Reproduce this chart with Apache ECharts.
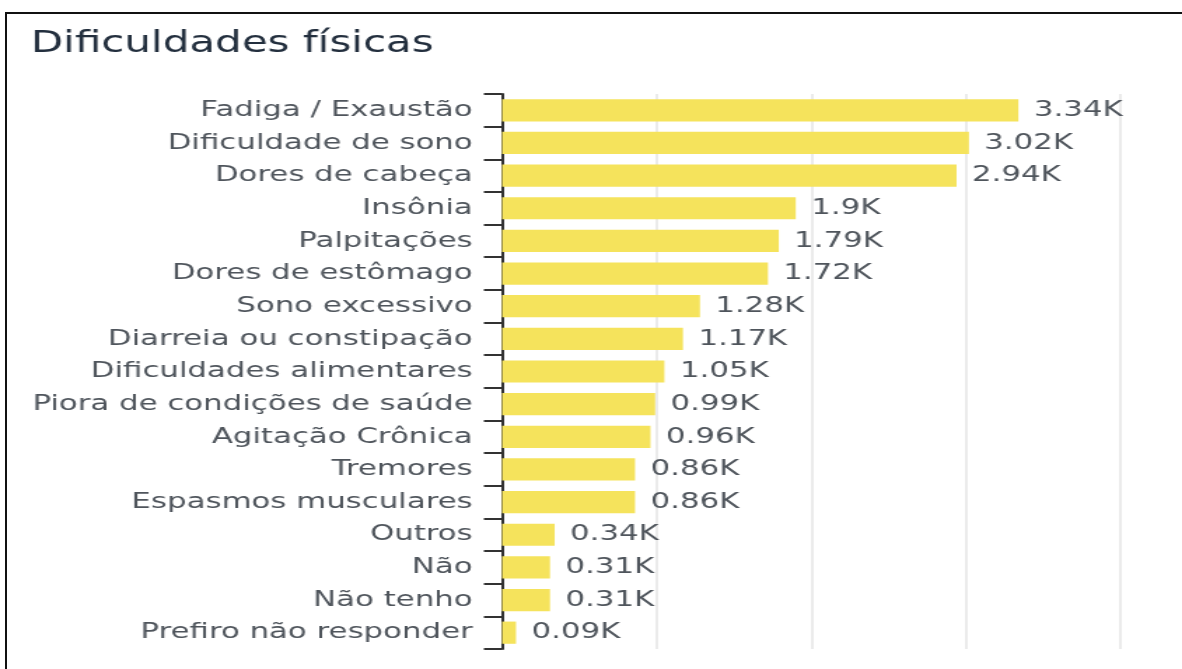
<!DOCTYPE html>
<html>
<head>
<meta charset="utf-8">
<script src="https://cdn.jsdelivr.net/npm/echarts@6/dist/echarts.min.js"></script>
<style>
    html, body { margin: 0; padding: 0; background: #fff; overflow: hidden; }
    #frame {
        position: absolute; left: 5px; top: 12px; width: 1200px; height: 700px;
        border-top: 2px solid #111; border-left: 2px solid #111;
    }
    /* the reference picture is stretched sideways, so the chart is too */
    #chart {
        position: absolute; left: 0; top: 0; width: 844px; height: 669px;
        transform: scaleX(1.4005); transform-origin: 0 0;
    }
</style>
</head>
<body>
<div id="frame"></div>
<div id="chart"></div>
<script>
const categories = [
    'Fadiga / Exaustão', 'Dificuldade de sono', 'Dores de cabeça', 'Insônia',
    'Palpitações', 'Dores de estômago', 'Sono excessivo', 'Diarreia ou constipação',
    'Dificuldades alimentares', 'Piora de condições de saúde', 'Agitação Crônica',
    'Tremores', 'Espasmos musculares', 'Outros', 'Não', 'Não tenho', 'Prefiro não responder'
];
const counts = [3340, 3020, 2940, 1900, 1790, 1720, 1280, 1170, 1050, 990, 960, 860, 860, 340, 310, 310, 90];
const axisMax = 4000;
const axisStep = 1000;

document.addEventListener('DOMContentLoaded', () => {

    const ch = echarts.init(document.getElementById('chart'));

    function formatK(v) {
        return (Math.round(v / 10) / 100) + 'K';
    }

    const option = {
        animation: false,
        textStyle: { fontFamily: 'DejaVu Sans' },
        title: {
            text: 'Dificuldades físicas',
            left: 17, top: 24,
            textStyle: { fontFamily: 'DejaVu Sans', fontSize: 30, fontWeight: 'normal', color: '#232f3e' }
        },
        grid: { left: 358.5, right: 44, top: 94, bottom: 20 },
        xAxis: {
            type: 'value', min: 0, max: axisMax, interval: axisStep,
            axisLabel: { show: false },
            axisLine: { show: false },
            axisTick: { show: false },
            splitLine: { show: true, lineStyle: { color: '#e4e4e4', width: 1.5 } }
        },
        yAxis: {
            type: 'category', data: categories, inverse: true,
            axisLine: { show: true, lineStyle: { color: '#333', width: 2 } },
            axisTick: { show: true, length: 13, lineStyle: { color: '#333', width: 2 } },
            axisLabel: { margin: 21, fontSize: 22, color: '#4f555c', fontFamily: 'DejaVu Sans' }
        },
        series: [{
            type: 'bar',
            data: counts,
            barCategoryGap: '32%',
            itemStyle: { color: '#f5e35c' },
            label: {
                show: true, position: 'right', distance: 11,
                fontSize: 22, color: '#4f555c', fontFamily: 'DejaVu Sans',
                formatter: (p) => formatK(p.value)
            }
        }]
    };
    ch.setOption(option);
});
</script>
</body>
</html>
